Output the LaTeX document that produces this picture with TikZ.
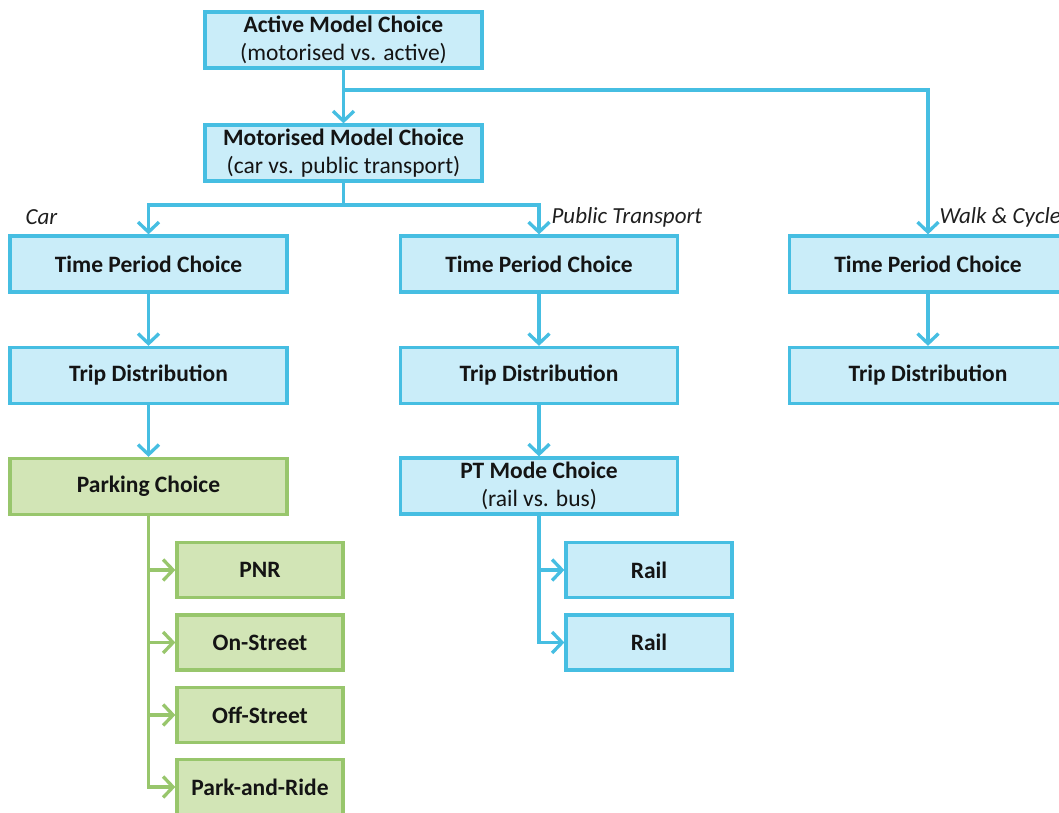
\documentclass[tikz,border=0pt]{standalone}
\usepackage{fontspec}
\setmainfont{Carlito}
\usetikzlibrary{arrows.meta}
\definecolor{bluefill}{RGB}{202,237,249}
\definecolor{blueline}{RGB}{70,190,226}
\definecolor{greenfill}{RGB}{210,229,182}
\definecolor{greenline}{RGB}{152,198,108}

\begin{document}
\begin{tikzpicture}[x=1pt,y=-1pt,
  bluebox/.style={draw=blueline,fill=bluefill,line width=3.3pt,minimum width=277pt,minimum height=56pt,
    align=center,text=black!92,font=\fontsize{23.5}{27.5}\selectfont},
  greenbox/.style={bluebox,draw=greenline,fill=greenfill},
  smallbox/.style={minimum width=166pt,minimum height=55pt},
  arr/.style={draw=blueline,line width=3.3pt,-{Straight Barb[length=10pt,width=21pt]}},
  garr/.style={arr,draw=greenline},
  lbl/.style={anchor=west,text=black!88,font=\itshape\fontsize{23}{27}\selectfont}]
\useasboundingbox (0,0) rectangle (1059,812);

\node[bluebox] (amc) at (343.5,40) {\textbf{Active Model Choice}\\(motorised vs. active)};
\node[bluebox] (mmc) at (343.5,153) {\textbf{Motorised Model Choice}\\(car vs. public transport)};

\node[bluebox] (tpcar) at (148.5,264) {\textbf{Time Period Choice}};
\node[bluebox] (tppt) at (539,264) {\textbf{Time Period Choice}};
\node[bluebox] (tpwc) at (928,264) {\textbf{Time Period Choice}};
\node[bluebox] (tdcar) at (148.5,375.5) {\textbf{Trip Distribution}};
\node[bluebox] (tdpt) at (539,375.5) {\textbf{Trip Distribution}};
\node[bluebox] (tdwc) at (928,375.5) {\textbf{Trip Distribution}};

\node[greenbox] (park) at (148.5,486.5) {\textbf{Parking Choice}};
\node[bluebox] (ptmc) at (539,486) {\textbf{PT Mode Choice}\\(rail vs. bus)};

\node[greenbox,smallbox] (pnr) at (260,570) {\textbf{PNR}};
\node[greenbox,smallbox] (onst) at (260,642.5) {\textbf{On-Street}};
\node[greenbox,smallbox] (offst) at (260,715) {\textbf{Off-Street}};
\node[greenbox,smallbox] (pnride) at (260,787) {\textbf{Park-and-Ride}};
\node[bluebox,smallbox] (rail1) at (649,570) {\textbf{Rail}};
\node[bluebox,smallbox] (rail2) at (649,642.5) {\textbf{Rail}};

\node[lbl] (carlbl) at (22,217) {Car};
\node[lbl] (ptlbl) at (548,217) {Public Transport};
\node[lbl] (wclbl) at (936,217) {Walk \& Cycle};

\coordinate (split1) at (343.5,90);
\coordinate (split2) at (343.5,205);
\draw[arr] (amc) -- (mmc);
\draw[arr] (split1) -| (tpwc.north);
\draw[draw=blueline,line width=3.3pt] (mmc.south) -- (split2);
\draw[arr] (split2) -| (tpcar.north);
\draw[arr] (split2) -| (tppt.north);

\draw[arr] (tpcar) -- (tdcar);
\draw[arr] (tdcar) -- (park);
\draw[arr] (tppt) -- (tdpt);
\draw[arr] (tdpt) -- (ptmc);
\draw[arr] (tpwc) -- (tdwc);

\draw[garr] (park.south) |- (pnr.west);
\draw[garr] (park.south) |- (onst.west);
\draw[garr] (park.south) |- (offst.west);
\draw[garr] (park.south) |- (pnride.west);
\draw[arr] (ptmc.south) |- (rail1.west);
\draw[arr] (ptmc.south) |- (rail2.west);
\end{tikzpicture}
\end{document}
